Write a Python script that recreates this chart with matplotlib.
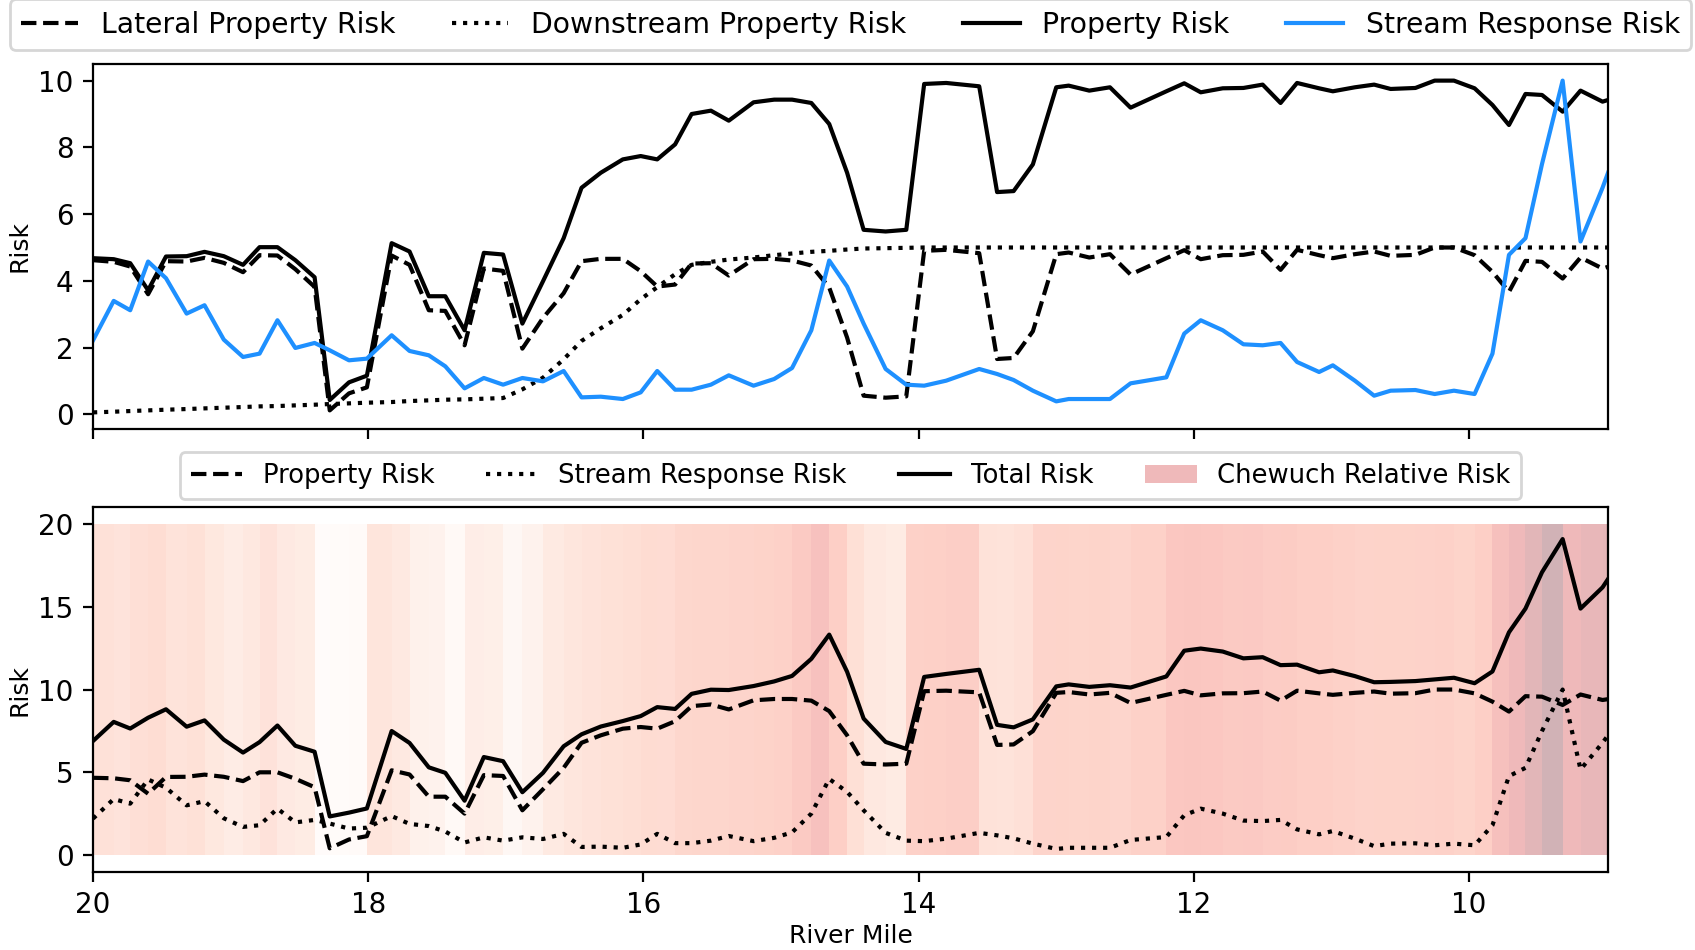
import matplotlib
matplotlib.use("Agg")
import matplotlib.pyplot as plt
import numpy as np
from matplotlib.lines import Line2D
from matplotlib.patches import Patch

# reach midpoints along the Chewuch, upstream -> downstream
river_mile = [20.00, 19.85, 19.73, 19.60, 19.47, 19.32, 19.19, 19.05, 18.91, 18.79,
              18.66, 18.53, 18.39, 18.28, 18.14, 18.01, 17.83, 17.70, 17.56, 17.44,
              17.30, 17.16, 17.02, 16.88, 16.73, 16.58, 16.45, 16.31, 16.15, 16.02,
              15.90, 15.77, 15.65, 15.51, 15.38, 15.20, 15.05, 14.92, 14.78, 14.65,
              14.52, 14.40, 14.24, 14.09, 13.96, 13.80, 13.56, 13.43, 13.31, 13.17,
              13.00, 12.91, 12.76, 12.61, 12.46, 12.20, 12.07, 11.95, 11.79, 11.64,
              11.50, 11.37, 11.25, 11.09, 10.99, 10.83, 10.69, 10.57, 10.39, 10.25,
              10.11, 9.96, 9.83, 9.71, 9.59, 9.47, 9.32, 9.19, 9.03, 8.99]

lateral_risk = [4.62, 4.57, 4.43, 3.60, 4.59, 4.58, 4.69, 4.54, 4.26, 4.77,
                4.76, 4.35, 3.82, 0.12, 0.63, 0.81, 4.76, 4.48, 3.12, 3.10,
                2.07, 4.37, 4.30, 1.97, 2.89, 3.63, 4.59, 4.66, 4.66, 4.29,
                3.83, 3.89, 4.52, 4.53, 4.16, 4.65, 4.66, 4.61, 4.46, 3.80,
                2.30, 0.56, 0.50, 0.54, 4.90, 4.93, 4.83, 1.66, 1.69, 2.49,
                4.80, 4.85, 4.70, 4.80, 4.19, 4.68, 4.92, 4.65, 4.77, 4.78,
                4.88, 4.33, 4.93, 4.77, 4.68, 4.80, 4.88, 4.75, 4.78, 5.00,
                5.00, 4.77, 4.27, 3.67, 4.60, 4.57, 4.07, 4.70, 4.37, 4.42]

downstream_risk = [0.06, 0.08, 0.10, 0.12, 0.14, 0.16, 0.18, 0.20, 0.22, 0.24,
                   0.25, 0.27, 0.29, 0.31, 0.33, 0.35, 0.37, 0.40, 0.42, 0.44,
                   0.45, 0.47, 0.49, 0.75, 1.10, 1.65, 2.20, 2.58, 2.98, 3.45,
                   3.81, 4.20, 4.48, 4.57, 4.64, 4.70, 4.77, 4.82, 4.87, 4.90,
                   4.94, 4.97, 4.98, 4.99, 5.00, 5.00, 5.00, 5.00, 5.00, 5.00,
                   5.00, 5.00, 5.00, 5.00, 5.00, 5.00, 5.00, 5.00, 5.00, 5.00,
                   5.00, 5.00, 5.00, 5.00, 5.00, 5.00, 5.00, 5.00, 5.00, 5.00,
                   5.00, 5.00, 5.00, 5.00, 5.00, 5.00, 5.00, 5.00, 5.00, 5.00]

stream_risk = [2.22, 3.40, 3.12, 4.58, 4.08, 3.02, 3.27, 2.24, 1.72, 1.82,
               2.82, 1.99, 2.14, 1.92, 1.62, 1.67, 2.37, 1.90, 1.77, 1.44,
               0.78, 1.09, 0.89, 1.09, 0.99, 1.30, 0.51, 0.53, 0.46, 0.66,
               1.30, 0.74, 0.74, 0.89, 1.17, 0.86, 1.06, 1.39, 2.52, 4.61,
               3.83, 2.72, 1.36, 0.89, 0.86, 1.01, 1.36, 1.21, 1.03, 0.71,
               0.39, 0.46, 0.46, 0.46, 0.93, 1.11, 2.42, 2.82, 2.52, 2.10,
               2.07, 2.14, 1.57, 1.27, 1.47, 1.01, 0.56, 0.71, 0.73, 0.61,
               0.71, 0.61, 1.82, 4.78, 5.28, 7.50, 10.00, 5.18, 6.79, 7.24]

x = np.array(river_mile)
property_risk = np.array(lateral_risk) + np.array(downstream_risk)
total_risk = property_risk + np.array(stream_risk)

fig, (ax1, ax2) = plt.subplots(2, 1, sharex=True, figsize=(8.475, 4.75), dpi=200)
fig.subplots_adjust(left=0.0549, right=0.9487, top=0.9326, bottom=0.0821, hspace=0.214)

# top: components of property risk plus stream response
ax1.plot(x, lateral_risk, color="k", ls="--", label="Lateral Property Risk")
ax1.plot(x, downstream_risk, color="k", ls=":", label="Downstream Property Risk")
ax1.plot(x, property_risk, color="k", ls="-", label="Property Risk")
ax1.plot(x, stream_risk, color="dodgerblue", label="Stream Response Risk")
ax1.set_ylabel("Risk", fontsize=9, labelpad=2.5)
ax1.legend(ncol=4, loc="lower center", bbox_to_anchor=(0.5, 1.0), fontsize=10.2)

# bottom: shaded reaches by total risk
cmap = plt.get_cmap("Reds")
ax2.pcolormesh(x, [0, 20], total_risk[1:][None, :], cmap=cmap,
               vmin=total_risk.min(), vmax=total_risk.max(), alpha=0.3)
ax2.plot(x, property_risk, color="k", ls="--")
ax2.plot(x, stream_risk, color="k", ls=":")
ax2.plot(x, total_risk, color="k", ls="-")
ax2.set_xlim(20, 8.99)
ax2.set_ylim(-1, 21)
ax2.set_yticks([0, 5, 10, 15, 20])
ax2.set_ylabel("Risk", fontsize=9, labelpad=2.5)
ax2.set_xlabel("River Mile", fontsize=9, labelpad=1.5)
handles = [Line2D([], [], color="k", ls="--", lw=1.5),
           Line2D([], [], color="k", ls=":", lw=1.5),
           Line2D([], [], color="k", ls="-", lw=1.5),
           Patch(facecolor=cmap(0.75), alpha=0.3)]
ax2.legend(handles, ["Property Risk", "Stream Response Risk", "Total Risk",
                     "Chewuch Relative Risk"],
           ncol=4, loc="lower center", bbox_to_anchor=(0.5, 1.022),
           borderaxespad=0, fontsize=9.3)

fig.savefig("out.png", dpi=200)
